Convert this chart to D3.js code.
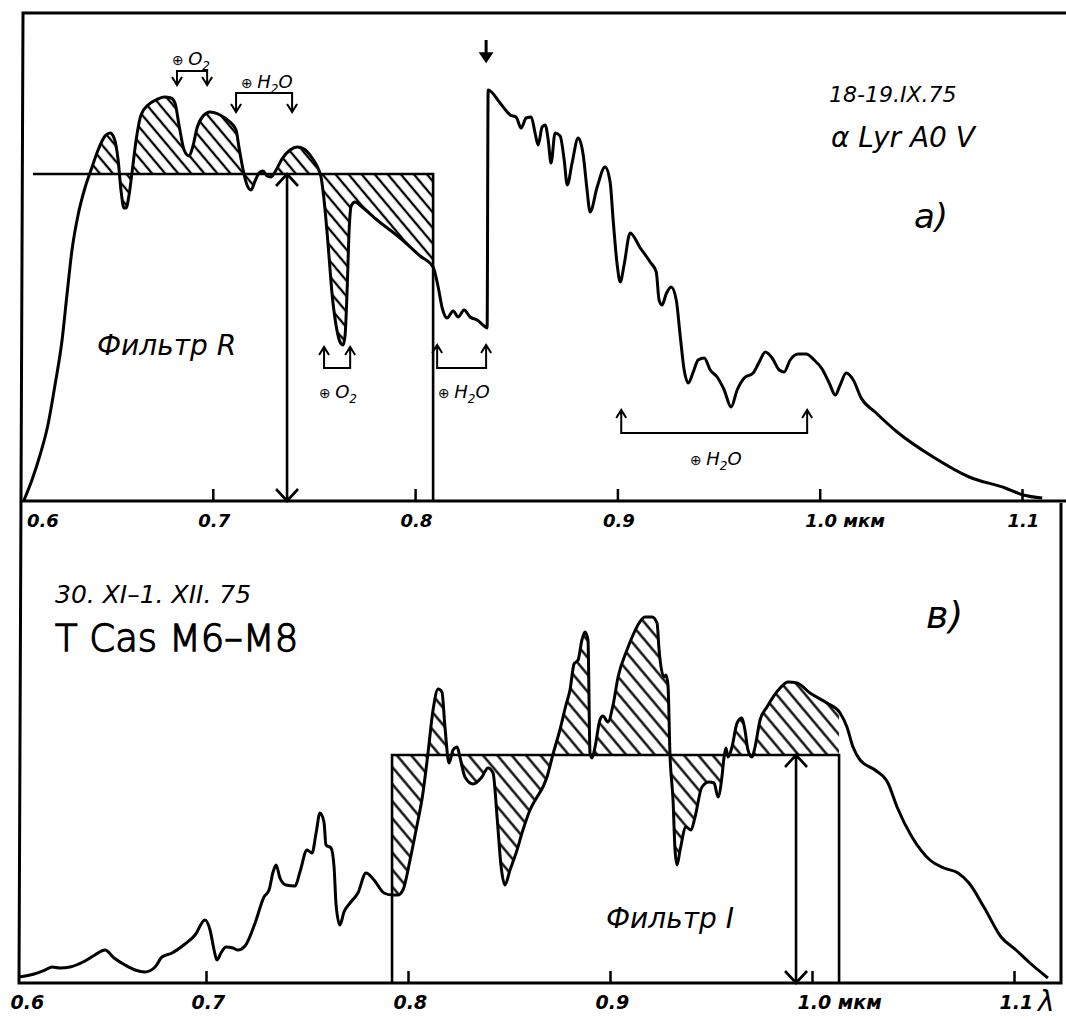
<!DOCTYPE html>
<html>
<head>
<meta charset="utf-8">
<script src="https://cdn.jsdelivr.net/npm/d3@7/dist/d3.min.js"></script>
<style>
  body { margin: 0; background: #fff; }
  text { font-family: "DejaVu Sans", sans-serif; font-style: italic; fill: #000; }
</style>
</head>
<body>
<div id="chart"></div>
<script>
// a) alpha Lyr A0 V (18-19.IX.75): wavelength, mkm / relative flux
var lyrWave = [
  0.6067,0.6106,0.6146,0.6185,0.6220,0.6255,0.6279,0.6304,0.6334,0.6368,
  0.6398,0.6433,0.6467,0.6492,0.6512,0.6532,0.6546,0.6561,0.6571,0.6586,
  0.6601,0.6621,0.6645,0.6680,0.6719,0.6759,0.6794,0.6813,0.6833,0.6858,
  0.6883,0.6902,0.6922,0.6952,0.6986,0.7036,0.7085,0.7115,0.7130,0.7150,
  0.7169,0.7189,0.7209,0.7229,0.7248,0.7268,0.7288,0.7313,0.7342,0.7382,
  0.7417,0.7451,0.7491,0.7520,0.7535,0.7550,0.7570,0.7590,0.7609,0.7629,
  0.7644,0.7654,0.7664,0.7674,0.7684,0.7703,0.7738,0.7812,0.7926,0.8025,
  0.8089,0.8114,0.8134,0.8158,0.8188,0.8213,0.8242,0.8272,0.8307,0.8341,
  0.8356,0.8361,0.8420,0.8470,0.8499,0.8524,0.8549,0.8574,0.8593,0.8608,
  0.8628,0.8643,0.8658,0.8672,0.8692,0.8717,0.8737,0.8752,0.8776,0.8806,
  0.8831,0.8850,0.8865,0.8900,0.8939,0.8964,0.8979,0.8999,0.9014,0.9033,
  0.9063,0.9113,0.9162,0.9192,0.9206,0.9221,0.9241,0.9266,0.9291,0.9310,
  0.9330,0.9350,0.9375,0.9399,0.9429,0.9459,0.9493,0.9528,0.9562,0.9592,
  0.9627,0.9671,0.9701,0.9731,0.9765,0.9800,0.9824,0.9854,0.9894,0.9933,
  0.9973,1.0012,1.0047,1.0077,1.0101,1.0131,1.0166,1.0205,1.0274,1.0383,
  1.0561,1.0739,1.0917,1.1006,1.1100];
var lyrFlux = [
  0.2,4.2,9.2,15.2,23.2,32.2,41.2,50.2,57.2,62.6,
  66.2,70.2,73,73.6,72.6,68.2,62.2,58.6,58.6,61.2,
  65.8,72.2,77.2,79.2,80.2,80.8,80.6,79.6,75.2,70.2,
  69,71,74.6,77,77.8,77.2,75.8,74.2,70.6,66.2,
  63.2,62.2,64,65.6,66,65,64.8,66.2,68.4,70.2,
  70.8,70.4,68.6,66.6,64.8,60.2,51.2,41.2,35.2,31.8,
  31.2,33.2,42.2,54.2,59,59.8,58.8,56.2,52.6,49,
  46.8,42.8,38.6,36.6,38,36.8,38.2,36.8,36.2,35,
  34.6,82.2,79.6,77.2,76.8,74.6,76.6,76.8,73.6,71.2,
  74.8,75.2,72.2,67.6,73.6,73,68.2,63.2,67.6,72.6,
  69.2,62.2,57.8,62.8,66.8,63.8,56.2,47.2,43.8,47.2,
  53.6,50.6,47.8,45.8,40.2,39.2,41.4,42.8,40.2,33.2,
  26.2,23.6,25.8,28.2,28.6,26.2,24.8,22.2,18.8,22.2,
  24.6,25.6,27.8,29.8,28.6,26.2,25.8,28.2,29.4,29.4,
  28.2,26.4,23.6,21.2,23.2,25.6,24.2,20.6,17.8,13.8,
  8.8,4.8,2.6,1.2,0.6];

// b) T Cas M6-M8 (30.XI-1.XII.75)
var casWave = [
  0.6074,0.6149,0.6203,0.6238,0.6277,0.6327,0.6391,0.6450,0.6500,0.6545,
  0.6599,0.6649,0.6698,0.6748,0.6782,0.6832,0.6896,0.6946,0.6995,0.7020,
  0.7040,0.7054,0.7074,0.7099,0.7134,0.7158,0.7193,0.7243,0.7287,0.7312,
  0.7332,0.7347,0.7366,0.7396,0.7441,0.7465,0.7500,0.7525,0.7545,0.7564,
  0.7584,0.7594,0.7619,0.7634,0.7644,0.7663,0.7683,0.7713,0.7752,0.7792,
  0.7832,0.7881,0.7921,0.7950,0.7975,0.8010,0.8040,0.8074,0.8099,0.8124,
  0.8149,0.8168,0.8183,0.8203,0.8223,0.8243,0.8257,0.8282,0.8322,0.8366,
  0.8396,0.8421,0.8441,0.8460,0.8480,0.8505,0.8535,0.8569,0.8604,0.8639,
  0.8668,0.8688,0.8718,0.8752,0.8782,0.8802,0.8822,0.8842,0.8861,0.8876,
  0.8891,0.8901,0.8911,0.8926,0.8950,0.8965,0.8990,0.9015,0.9040,0.9084,
  0.9114,0.9144,0.9173,0.9208,0.9233,0.9243,0.9267,0.9277,0.9287,0.9297,
  0.9312,0.9322,0.9332,0.9347,0.9376,0.9401,0.9421,0.9455,0.9490,0.9515,
  0.9535,0.9554,0.9564,0.9574,0.9584,0.9604,0.9629,0.9653,0.9668,0.9683,
  0.9703,0.9718,0.9743,0.9777,0.9842,0.9881,0.9926,0.9990,1.0074,1.0139,
  1.0173,1.0203,1.0238,1.0312,1.0376,1.0421,1.0495,1.0584,1.0653,1.0723,
  1.0777,1.0851,1.0936,1.1010,1.1079,1.1168];
var casFlux = [
  1.2,1.8,2.6,3.2,3,3.2,4.2,5.6,6.6,5,
  3.6,2.6,2.2,3.2,5.2,6,7.8,9.6,12.6,10.6,
  6.6,4.6,6,7.2,7,6.6,7.4,12,17.2,18.6,
  22.2,23.6,21,19.6,19.4,22.2,26.6,26,30,34,
  32.2,27.6,27,23.2,15.6,11.6,14.2,16,18,22,
  20.6,18,17.6,17.6,18.6,24.6,30.6,38,46,54.6,
  58.8,58.2,51.2,44,46.6,47.2,45.2,41.2,39.8,41.2,
  43,42,33.2,23.6,19.6,22.6,26,30.6,34.6,37.2,
  39.2,41.2,45.8,50.6,55.6,58.6,63.8,64.6,68.6,70.2,
  68.6,46,45,47.2,52.6,53.4,52.2,55.6,61.2,66.6,
  69.6,72,73.2,73.2,72,66.6,61.2,61.6,59.6,45.6,
  36.6,26.6,23.6,26.6,31.2,30.6,33.2,39.2,40.2,40,
  37.2,41.2,45,47,45.2,47.2,52,53,50.6,46.6,
  45.2,47.2,52.6,55.2,59,60.2,60,58,56,54,
  51.2,47.2,44.6,42.6,40,35.2,29.2,24.6,23,22,
  20,15.2,9.2,6.6,4,1];

// filter boxes: [left edge, right edge, level, effective wavelength]
var filterR = [0.6111, 0.8089, 65.4, 0.7367];
var filterI = [0.7921, 1.0134, 45.6, 0.9921];

var tickWave = [0.6, 0.7, 0.8, 0.9, 1.0, 1.1];
var tickText = ["0.6", "0.7", "0.8", "0.9", "1.0 мкм", "1.1"];

// telluric bands: gas, from, to, bracket level, arrow tip level
var bandsTop = [
  ["O", "2", "",  0.6823, 0.6972, 86,   83.2],
  ["H", "2", "O", 0.7115, 0.7392, 81.6, 77.8],
  ["O", "2", "",  0.7550, 0.7679, 26.6, 30.8],
  ["H", "2", "O", 0.8109, 0.8351, 26.6, 31.2],
  ["H", "2", "O", 0.9019, 0.9938, 13.6, 18.2]
];
var bandLabelPos = [[172, 65], [241, 88], [319, 398], [438, 398], [690, 465]];

var W = 1066, H = 1019;
var svg = d3.select("#chart").append("svg").attr("width", W).attr("height", H);

var xTop = d3.scaleLinear().domain([0.6, 1.1]).range([10.5, 1022]);
var yTop = d3.scaleLinear().domain([0, 100]).range([501, 1]);
var xBot = d3.scaleLinear().domain([0.6, 1.1]).range([4, 1014]);
var yBot = d3.scaleLinear().domain([0, 100]).range([983, 483]);

var defs = svg.append("defs");
function hatch(id, step) {
  defs.append("pattern").attr("id", id)
    .attr("patternUnits", "userSpaceOnUse")
    .attr("width", step).attr("height", step)
    .attr("patternTransform", "rotate(-40)")
    .append("line")
    .attr("x1", step / 2).attr("y1", 0).attr("x2", step / 2).attr("y2", step)
    .attr("stroke", "#000").attr("stroke-width", 2.3);
}
hatch("hatchA", 10);
hatch("hatchB", 11);

function interp(wave, flux, w) {
  for (var i = 1; i < wave.length; i++) {
    if (wave[i] >= w) {
      var t = (w - wave[i - 1]) / (wave[i] - wave[i - 1]);
      return flux[i - 1] + t * (flux[i] - flux[i - 1]);
    }
  }
  return flux[flux.length - 1];
}

function firstCrossing(wave, flux, level, from) {
  for (var i = 1; i < wave.length; i++) {
    if (wave[i] > from && flux[i - 1] < level && flux[i] >= level) {
      var t = (level - flux[i - 1]) / (flux[i] - flux[i - 1]);
      return wave[i - 1] + t * (wave[i] - wave[i - 1]);
    }
  }
  return from;
}

function drawPanel(x, y, wave, flux, filt, hatchId, hatchLo, leftEdge) {
  var g = svg.append("g");
  var line = d3.line()
    .x(function(d) { return x(d[0]); })
    .y(function(d) { return y(d[1]); })
    .curve(d3.curveMonotoneX);
  var pts = wave.map(function(w, i) { return [w, flux[i]]; });

  // hatched area between spectrum and filter level
  var lo = hatchLo, hi = filt[1], level = filt[2];
  var part = [[lo, interp(wave, flux, lo)]];
  pts.forEach(function(p) { if (p[0] > lo + 1e-4 && p[0] < hi - 1e-4) part.push(p); });
  part.push([hi, interp(wave, flux, hi)]);
  g.append("path")
    .attr("d", line(part) + "L" + x(hi) + "," + y(level) + "L" + x(lo) + "," + y(level) + "Z")
    .attr("fill", "url(#" + hatchId + ")")
    .attr("stroke", "none");

  // filter box (top panel has no left edge)
  var fb = (leftEdge ? "M" + x(filt[0]) + "," + y(0) + "V" + y(level) : "M" + x(filt[0]) + "," + y(level)) +
    "H" + x(filt[1]) + "V" + y(0);
  g.append("path").attr("d", fb).attr("fill", "none")
    .attr("stroke", "#000").attr("stroke-width", 2.6);

  // effective wavelength double arrow
  var xa = x(filt[3]), ya = y(level), yb = y(0);
  g.append("path")
    .attr("d", "M" + xa + "," + ya + "V" + yb +
      "M" + (xa - 11) + "," + (ya + 12) + "L" + xa + "," + ya + "L" + (xa + 11) + "," + (ya + 12) +
      "M" + (xa - 11) + "," + (yb - 12) + "L" + xa + "," + yb + "L" + (xa + 11) + "," + (yb - 12))
    .attr("fill", "none").attr("stroke", "#000").attr("stroke-width", 2.6);

  // spectrum
  g.append("path").attr("d", line(pts)).attr("fill", "none")
    .attr("stroke", "#000").attr("stroke-width", 3)
    .attr("stroke-linejoin", "round");
  return g;
}

var lyrLo = firstCrossing(lyrWave, lyrFlux, filterR[2], 0.62);
drawPanel(xTop, yTop, lyrWave, lyrFlux, filterR, "hatchA", lyrLo, false);
drawPanel(xBot, yBot, casWave, casFlux, filterI, "hatchB", filterI[0], true);

// frame
svg.append("path")
  .attr("d", "M1066,13H23L19,983H1061V503M20,501H1066")
  .attr("fill", "none").attr("stroke", "#000").attr("stroke-width", 3);

// axes with upward ticks
function drawAxis(x, y0, labelDx0, size) {
  var ax = d3.axisBottom(x).tickValues(tickWave)
    .tickSize(-12).tickPadding(13)
    .tickFormat(function(d, i) { return tickText[i]; });
  var g = svg.append("g").attr("transform", "translate(0," + y0 + ")").call(ax);
  g.select(".domain").remove();
  g.selectAll(".tick line").attr("stroke", "#000").attr("stroke-width", 2.5)
    .filter(function(d) { return d === 0.6; }).remove();
  g.selectAll(".tick text")
    .attr("font-family", null).attr("fill", "#000")
    .style("font-size", size + "px").style("font-weight", "bold")
    .attr("text-anchor", "start")
    .attr("x", function(d) { return d === 0.6 ? labelDx0 : -15; });
}
drawAxis(xTop, 501, 16, 18);
drawAxis(xBot, 983, 6, 19);

// telluric band brackets
bandsTop.forEach(function(b, i) {
  var x1 = xTop(b[3]), x2 = xTop(b[4]), yb = yTop(b[5]), yt = yTop(b[6]);
  var s = yt > yb ? -1 : 1;
  svg.append("path")
    .attr("d", "M" + x1 + "," + yt + "V" + yb + "H" + x2 + "V" + yt +
      "M" + (x1 - 5) + "," + (yt + 8 * s) + "L" + x1 + "," + yt + "L" + (x1 + 5) + "," + (yt + 8 * s) +
      "M" + (x2 - 5) + "," + (yt + 8 * s) + "L" + x2 + "," + yt + "L" + (x2 + 5) + "," + (yt + 8 * s))
    .attr("fill", "none").attr("stroke", "#000").attr("stroke-width", 2);
  var t = svg.append("text").attr("x", bandLabelPos[i][0]).attr("y", bandLabelPos[i][1])
    .style("font-size", "18px");
  t.append("tspan").style("font-size", "14px").style("font-style", "normal").text("⊕ ");
  t.append("tspan").text(b[0]);
  t.append("tspan").attr("dy", 5).style("font-size", "12px").text(b[1]);
  if (b[2]) t.append("tspan").attr("dy", -5).text(b[2]);
});

// marker arrow above the Paschen jump
var xm = xTop(0.8351);
svg.append("path").attr("d", "M" + xm + "," + yTop(92.2) + "V" + (yTop(87.8) - 6))
  .attr("stroke", "#000").attr("stroke-width", 3);
svg.append("path")
  .attr("d", "M" + (xm - 6) + "," + (yTop(87.8) - 9) + "L" + xm + "," + yTop(87.8) + "L" + (xm + 6) + "," + (yTop(87.8) - 9) + "Z")
  .attr("fill", "#000").attr("stroke", "#000").attr("stroke-width", 1.5);

// captions: text, x, y, size, style, weight, outline
var captions = [
  ["18-19.IX.75", 829, 102, 22, "italic", 400, 0],
  ["α Lyr  A0 V", 831, 147, 28, "italic", 400, 0],
  ["a)", 914, 228, 34, "italic", 400, 0],
  ["Фильтр  R", 97, 355, 28, "italic", 400, 0],
  ["30. XI–1. XII. 75", 55, 603, 25, "italic", 400, 0],
  ["T Cas  M6–M8", 55, 651, 37, "normal", 200, 1.3],
  ["в)", 926, 628, 38, "italic", 400, 0],
  ["Фильтр  I", 606, 928, 28, "italic", 400, 0],
  ["λ", 1038, 1011, 28, "italic", 400, 0]
];
captions.forEach(function(c) {
  var t = svg.append("text").attr("x", c[1]).attr("y", c[2])
    .style("font-size", c[3] + "px").style("font-style", c[4])
    .style("font-weight", c[5]).text(c[0]);
  if (c[6]) t.attr("stroke", "#000").attr("stroke-width", c[6]);
});
</script>
</body>
</html>
